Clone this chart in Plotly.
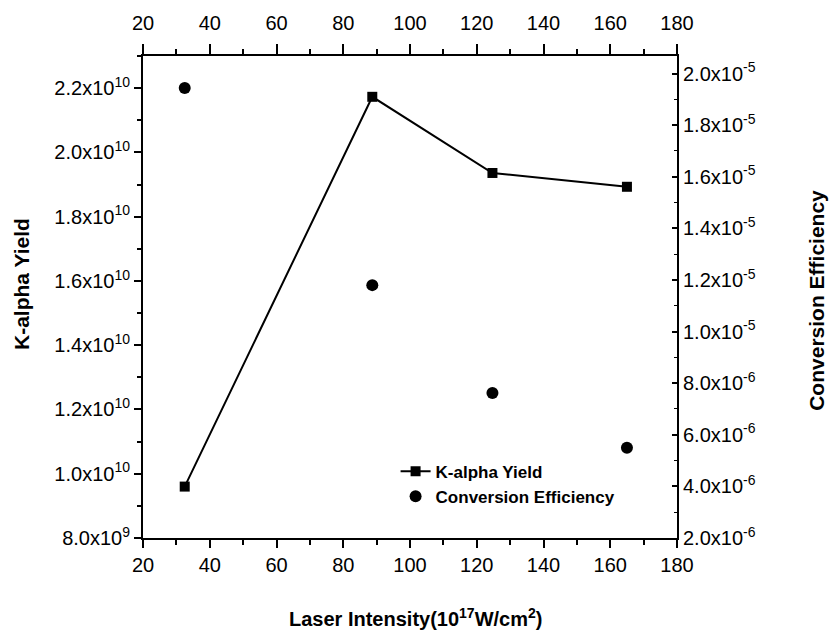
import plotly.graph_objects as go

# Data
intensity = [32.5, 88.7, 124.7, 165.0]
kalpha_yield = [9.6e9, 2.173e10, 1.936e10, 1.893e10]
conv_eff = [1.944e-5, 1.18e-5, 7.62e-6, 5.5e-6]

x_ticks = [20, 40, 60, 80, 100, 120, 140, 160, 180]
left_ticks = [8e9, 1.0e10, 1.2e10, 1.4e10, 1.6e10, 1.8e10, 2.0e10, 2.2e10]
left_labels = ["8.0x10<sup>9</sup>", "1.0x10<sup>10</sup>", "1.2x10<sup>10</sup>", "1.4x10<sup>10</sup>",
               "1.6x10<sup>10</sup>", "1.8x10<sup>10</sup>", "2.0x10<sup>10</sup>", "2.2x10<sup>10</sup>"]
right_ticks = [2e-6, 4e-6, 6e-6, 8e-6, 1.0e-5, 1.2e-5, 1.4e-5, 1.6e-5, 1.8e-5, 2.0e-5]
right_labels = ["2.0x10<sup>-6</sup>", "4.0x10<sup>-6</sup>", "6.0x10<sup>-6</sup>", "8.0x10<sup>-6</sup>",
                "1.0x10<sup>-5</sup>", "1.2x10<sup>-5</sup>", "1.4x10<sup>-5</sup>", "1.6x10<sup>-5</sup>",
                "1.8x10<sup>-5</sup>", "2.0x10<sup>-5</sup>"]

FONT = "Liberation Sans, Arial, sans-serif"

fig = go.Figure()
fig.add_trace(go.Scatter(
    x=intensity, y=kalpha_yield, name="K-alpha Yield", mode="lines+markers",
    line=dict(color="black", width=2),
    marker=dict(symbol="square", size=10, color="black"),
    xaxis="x", yaxis="y"))
fig.add_trace(go.Scatter(
    x=intensity, y=conv_eff, name="Conversion Efficiency", mode="markers",
    marker=dict(symbol="circle", size=12, color="black"),
    xaxis="x2", yaxis="y2"))

axis_common = dict(showgrid=False, zeroline=False, showline=True, linecolor="black", linewidth=2,
                   tickcolor="black", tickwidth=2, tickfont=dict(family=FONT, size=20, color="black"))

fig.update_layout(
    width=834, height=632,
    margin=dict(l=143, r=157, t=56, b=94),
    paper_bgcolor="white", plot_bgcolor="white",
    showlegend=True,
    legend=dict(x=0.473, y=0.175, xanchor="left", yanchor="top",
                font=dict(family=FONT, size=17, color="black", weight="bold"),
                bgcolor="rgba(0,0,0,0)", tracegroupgap=0, itemwidth=30),
    xaxis=dict(range=[20, 180], tickmode="array", tickvals=x_ticks, ticktext=[str(v) for v in x_ticks],
               ticks="outside", ticklen=8,
               minor=dict(tickmode="linear", tick0=20, dtick=10, ticks="outside", ticklen=5, tickcolor="black", tickwidth=2),
               **axis_common),
    xaxis2=dict(range=[20, 180], overlaying="x", side="top", tickmode="array", tickvals=x_ticks,
                ticktext=[str(v) for v in x_ticks], ticks="outside", ticklen=10, ticklabelstandoff=6,
                minor=dict(tickmode="linear", tick0=20, dtick=10, ticks="outside", ticklen=5, tickcolor="black", tickwidth=2),
                **axis_common),
    yaxis=dict(range=[8e9, 2.3e10], tickmode="array", tickvals=left_ticks, ticktext=left_labels,
               ticks="outside", ticklen=7,
               minor=dict(tickmode="linear", tick0=8e9, dtick=1e9, ticks="outside", ticklen=4, tickcolor="black", tickwidth=2),
               **axis_common),
    yaxis2=dict(range=[2e-6, 2.068e-5], overlaying="y", side="right", anchor="x2", tickmode="array",
                tickvals=right_ticks, ticktext=right_labels, ticks="inside", ticklen=5,
                minor=dict(tickmode="linear", tick0=2e-6, dtick=1e-6, ticks="inside", ticklen=3, tickcolor="black", tickwidth=1),
                **axis_common),
    annotations=[
        dict(text="K-alpha Yield", xref="paper", yref="paper", x=-0.2266, y=0.527, textangle=-90,
             xanchor="center", yanchor="middle",
             showarrow=False, font=dict(family=FONT, size=21, color="black", weight="bold")),
        dict(text="Conversion Efficiency", xref="paper", yref="paper", x=1.262, y=0.494, textangle=-90,
             xanchor="center", yanchor="middle",
             showarrow=False, font=dict(family=FONT, size=21, color="black", weight="bold")),
        dict(text="Laser Intensity(10<sup>17</sup>W/cm<sup>2</sup>)", xref="paper", yref="paper",
             x=0.51, y=-0.165, xanchor="center", yanchor="middle",
             showarrow=False, font=dict(family=FONT, size=20, color="black", weight="bold")),
    ],
)

fig.write_html("out.html")
